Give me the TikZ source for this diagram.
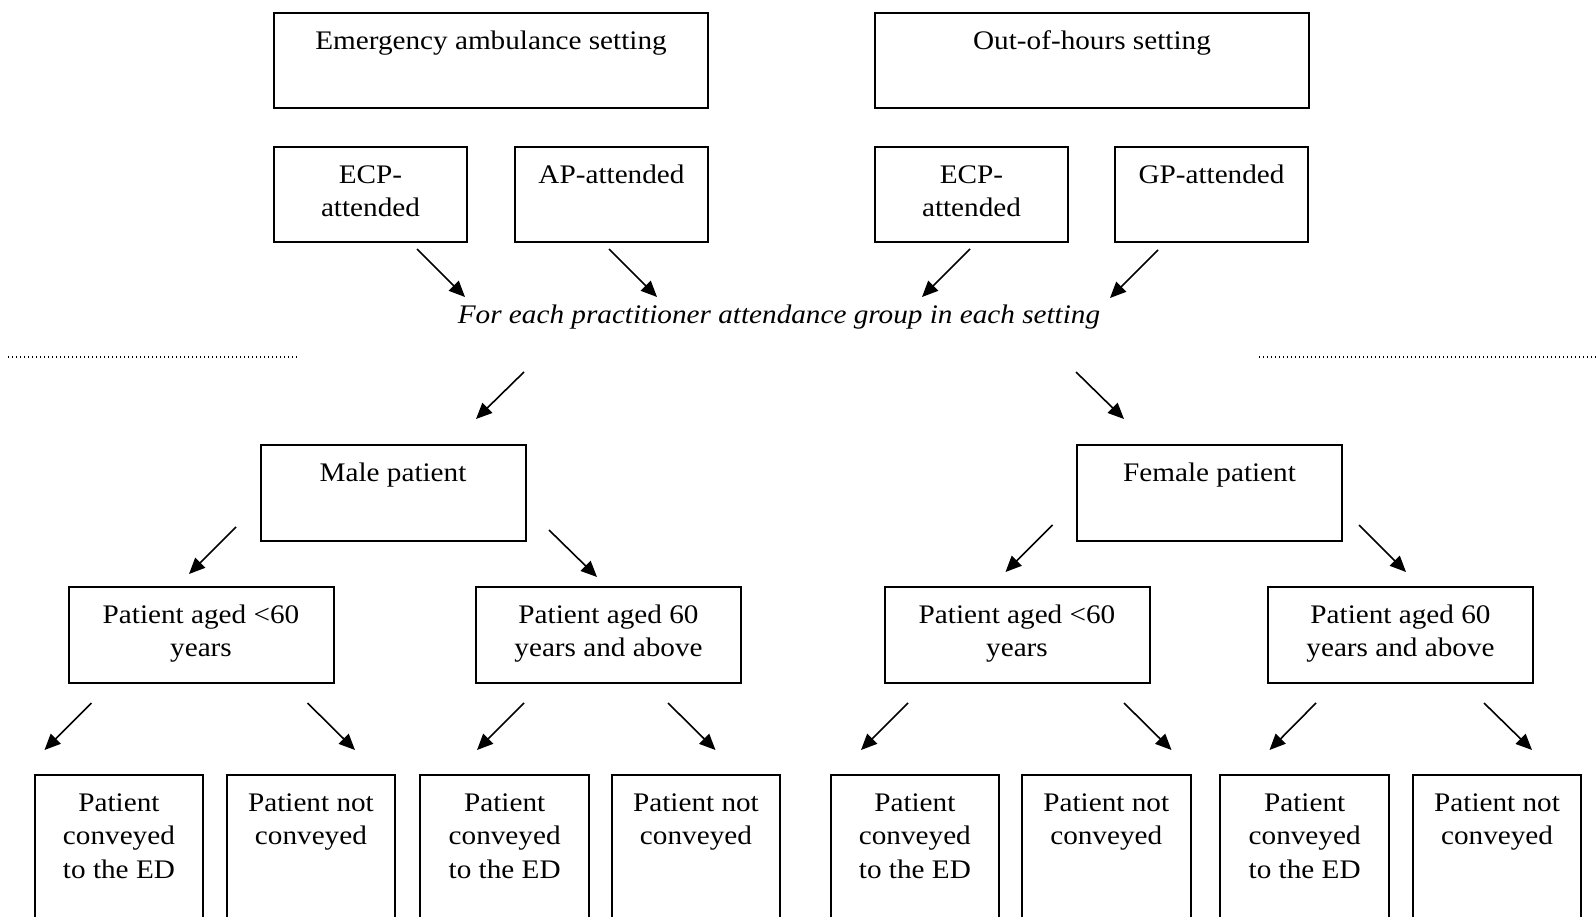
\documentclass[tikz,border=0pt]{standalone}
\usepackage{fontspec}
\setmainfont[FakeStretch=1.09]{Liberation Serif}
\usetikzlibrary{arrows.meta,calc}
\newcommand\topstrut{\rule{0pt}{25pt}}
\begin{document}
\begin{tikzpicture}[x=1pt,y=-1pt,
  frame/.style={draw,line width=2pt,inner sep=0pt,anchor=north west},
  wide/.style={frame,minimum width=434pt,minimum height=95.5pt},
  half/.style={frame,minimum width=193pt,minimum height=95.5pt},
  mid/.style={frame,minimum width=265pt,minimum height=95.5pt},
  leaf/.style={frame,minimum width=168.5pt,minimum height=220pt},
  txt/.style={font=\fontsize{26.8}{33.5}\selectfont,align=center,inner sep=0pt,anchor=north},
  arr/.style={line width=1.6pt,-{Triangle[length=16pt,width=14pt]}},
  sep/.style={line width=1.3pt,dash pattern=on 1.3pt off 2.7pt}]
\useasboundingbox (0,0) rectangle (1596,917);
\clip (0,0) rectangle (1596,917);

% settings
\node[wide] (emerg) at (273,12) {};
\node[wide] (ooh) at (874,12) {};
\node[txt] (emergT) at ($(emerg.north)+(0,12)$) {\topstrut Emergency ambulance setting};
\node[txt] (oohT) at ($(ooh.north)+(0,12)$) {\topstrut Out-of-hours setting};

% practitioner groups
\node[half] (ecpA) at (273,146) {};
\node[half] (ap) at (514,146) {};
\node[half] (ecpB) at (874,146) {};
\node[half] (gp) at (1114,146) {};
\node[txt] (ecpAT) at ($(ecpA.north)+(0,12)$) {\topstrut ECP-\\attended};
\node[txt] (apT) at ($(ap.north)+(0,12)$) {\topstrut AP-attended};
\node[txt] (ecpBT) at ($(ecpB.north)+(0,12)$) {\topstrut ECP-\\attended};
\node[txt] (gpT) at ($(gp.north)+(0,12)$) {\topstrut GP-attended};

\coordinate (a1s) at (417,249);  \coordinate (a1e) at (465,297);
\coordinate (a2s) at (609,249);  \coordinate (a2e) at (657,297);
\coordinate (a3s) at (970,249);  \coordinate (a3e) at (922,297);
\coordinate (a4s) at (1158,250); \coordinate (a4e) at (1110,298);
\foreach \i in {1,...,4} \draw[arr] (a\i s) -- (a\i e);

\node[txt,anchor=base,font=\fontsize{26.8}{33.5}\selectfont\itshape] (group) at (779,324)
  {For each practitioner attendance group in each setting};

% separators
\coordinate (d1s) at (8,357);    \coordinate (d1e) at (298,357);
\coordinate (d2s) at (1259,357); \coordinate (d2e) at (1596,357);
\draw[sep] (d1s) -- (d1e);
\draw[sep] (d2s) -- (d2e);

% sex
\coordinate (m1s) at (524,372);  \coordinate (m1e) at (476,419);
\coordinate (m2s) at (1076,372); \coordinate (m2e) at (1124,419);
\draw[arr] (m1s) -- (m1e);
\draw[arr] (m2s) -- (m2e);

\node[mid] (male) at (259.5,444) {};
\node[mid] (female) at (1076,444) {};
\node[txt] (maleT) at ($(male.north)+(0,12)$) {\topstrut Male patient};
\node[txt] (femaleT) at ($(female.north)+(0,12)$) {\topstrut Female patient};

\coordinate (s1s) at (236,527);    \coordinate (s1e) at (189,574);
\coordinate (s2s) at (549,530);    \coordinate (s2e) at (597,577);
\coordinate (s3s) at (1052.5,525); \coordinate (s3e) at (1005.5,572);
\coordinate (s4s) at (1359,525);   \coordinate (s4e) at (1406,572);
\foreach \i in {1,...,4} \draw[arr] (s\i s) -- (s\i e);

% age
\node[mid] (ageA) at (67.5,586) {};
\node[mid] (ageB) at (475,586) {};
\node[mid] (ageC) at (883.5,586) {};
\node[mid] (ageD) at (1267,586) {};
\node[txt] (ageAT) at ($(ageA.north)+(0,12)$) {\topstrut Patient aged <60\\years};
\node[txt] (ageBT) at ($(ageB.north)+(0,12)$) {\topstrut Patient aged 60\\years and above};
\node[txt] (ageCT) at ($(ageC.north)+(0,12)$) {\topstrut Patient aged <60\\years};
\node[txt] (ageDT) at ($(ageD.north)+(0,12)$) {\topstrut Patient aged 60\\years and above};

\coordinate (t1s) at (91.5,703);   \coordinate (t1e) at (44.5,750);
\coordinate (t2s) at (307.5,703);  \coordinate (t2e) at (355,750);
\coordinate (t3s) at (524,703);    \coordinate (t3e) at (477,750);
\coordinate (t4s) at (668,703);    \coordinate (t4e) at (715.5,750);
\coordinate (t5s) at (908,703);    \coordinate (t5e) at (861,750);
\coordinate (t6s) at (1124,703);   \coordinate (t6e) at (1171.5,750);
\coordinate (t7s) at (1316,703);   \coordinate (t7e) at (1269.5,750);
\coordinate (t8s) at (1484,703);   \coordinate (t8e) at (1532,750);
\foreach \i in {1,...,8} \draw[arr] (t\i s) -- (t\i e);

% outcomes
\foreach \x/\n in {33.7/1,225.7/2,419.4/3,610.7/4,829.6/5,1021/6,1219.4/7,1411.8/8}
  \node[leaf] (out\n) at (\x,774) {};
\foreach \n in {1,3,5,7}
  \node[txt] (out\n T) at ($(out\n.north)+(0,12)$) {\topstrut Patient\\conveyed\\to the ED};
\foreach \n in {2,4,6,8}
  \node[txt] (out\n T) at ($(out\n.north)+(0,12)$) {\topstrut Patient not\\conveyed};
\end{tikzpicture}
\end{document}
